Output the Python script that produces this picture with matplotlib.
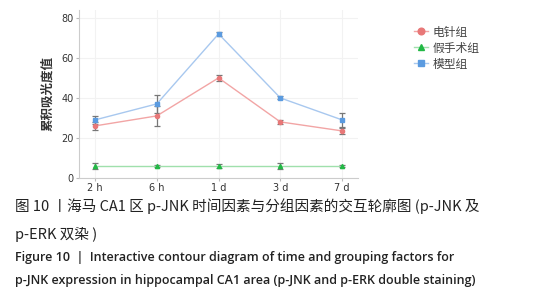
import matplotlib
matplotlib.use('Agg')
import matplotlib.pyplot as plt

plt.rcParams['font.family'] = ['Noto Sans CJK SC', 'DejaVu Sans']

# 数据
tiempos = ['2 h', '6 h', '1 d', '3 d', '7 d']
grupos = ['电针组', '假手术组', '模型组']

dianzhen = [26, 31, 50, 28, 23.5]
dianzhen_err = [2, 5, 1.5, 1.2, 1.3]
jiashoushu = [6, 6, 6, 6, 6]
jiashoushu_err = [1.5, 0.5, 1, 1.5, 0.5]
moxing = [29, 37, 72, 40, 29]
moxing_err = [2, 4.5, 1, 0.7, 3.6]

y_ticks = [0, 20, 40, 60, 80]

fig = plt.figure(figsize=(5.41, 3.0), dpi=100)
ax = fig.add_axes([0.146, 0.407, 0.516, 0.56])

x = list(range(len(tiempos)))
series = [
    (dianzhen, dianzhen_err, '#f2a5a5', '#e87878', 'o'),
    (jiashoushu, jiashoushu_err, '#9fe0ac', '#22b845', '^'),
    (moxing, moxing_err, '#a8c8ef', '#5b9be0', 's'),
]
for (vals, errs, lc, mc, mk), nombre in zip(series, grupos):
    ax.errorbar(x, vals, yerr=errs, color=lc, marker=mk, markersize=3,
                markerfacecolor=mc, markeredgecolor=mc, linewidth=1,
                ecolor='#777777', elinewidth=0.9, capsize=2.5, capthick=0.9,
                label=nombre)

ax.set_xlim(-0.26, 4.26)
ax.set_ylim(0, 84)
ax.set_xticks(x)
ax.set_xticklabels(tiempos, fontsize=7, family='DejaVu Sans')
ax.set_yticks(y_ticks)
ax.set_yticklabels([str(v) for v in y_ticks], fontsize=7, family='DejaVu Sans')
ax.tick_params(length=2, color='#bbbbbb', labelcolor='#333333', pad=2)
ax.grid(color='#f2f2f2', linewidth=0.8)
ax.set_axisbelow(True)
for s in ['top', 'right']:
    ax.spines[s].set_visible(False)
for s in ['left', 'bottom']:
    ax.spines[s].set_color('#cccccc')
ax.set_ylabel('累积吸光度值', fontsize=9, fontweight='bold', color='#333333', labelpad=5)

# leyenda
handles, labels = ax.get_legend_handles_labels()
handles = [h[0] for h in handles]
leg = fig.legend(handles, labels, loc='upper left', bbox_to_anchor=(0.745, 0.95),
                 frameon=False, fontsize=8.5, handlelength=1.2, markerscale=1.6,
                 labelspacing=0.25, handletextpad=0.4)
for t in leg.get_texts():
    t.set_color('#444444')

# pie de figura
fig.text(0.027, 0.295, '图 10 丨海马 CA1 区 p-JNK 时间因素与分组因素的交互轮廓图 (p-JNK 及',
         fontsize=10.5, color='#222222')
fig.text(0.027, 0.205, 'p-ERK 双染 )', fontsize=10.5, color='#222222')
fig.text(0.027, 0.13, 'Figure 10  |  Interactive contour diagram of time and grouping factors for',
         fontsize=9, color='#222222', family='Open Sans', fontweight='semibold')
fig.text(0.027, 0.052, 'p-JNK expression in hippocampal CA1 area (p-JNK and p-ERK double staining)',
         fontsize=9, color='#222222', family='Open Sans', fontweight='semibold')

fig.savefig('out.png', dpi=100)
